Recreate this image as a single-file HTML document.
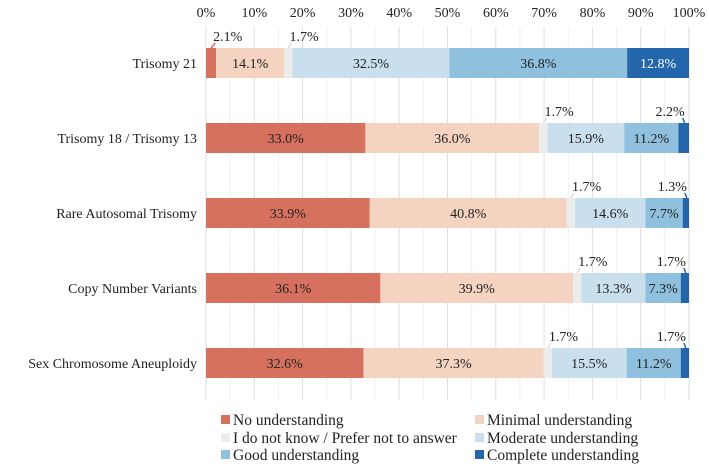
<!DOCTYPE html>
<html><head><meta charset="utf-8"><style>
body{margin:0;background:#fff;}
svg{display:block;font-family:"Liberation Serif",serif;}
</style></head><body>
<svg id="c" width="709" height="465"></svg>
<script>
const categories=["Trisomy 21","Trisomy 18 / Trisomy 13","Rare Autosomal Trisomy","Copy Number Variants","Sex Chromosome Aneuploidy"];
const seriesNames=["No understanding","Minimal understanding","I do not know / Prefer not to answer","Moderate understanding","Good understanding","Complete understanding"];
const noUnderstanding=[2.1,33.0,33.9,36.1,32.6];
const minimalUnderstanding=[14.1,36.0,40.8,39.9,37.3];
const dontKnow=[1.7,1.7,1.7,1.7,1.7];
const moderateUnderstanding=[32.5,15.9,14.6,13.3,15.5];
const goodUnderstanding=[36.8,11.2,7.7,7.3,11.2];
const completeUnderstanding=[12.8,2.2,1.3,1.7,1.7];
const tickValues=[0,10,20,30,40,50,60,70,80,90,100];
const series=[noUnderstanding,minimalUnderstanding,dontKnow,moderateUnderstanding,goodUnderstanding,completeUnderstanding];
const colors=["#d6705f","#f4d3c0","#ececec","#cadfed","#8fc0dd","#2366ab"];
const svg=document.getElementById('c');const NS="http://www.w3.org/2000/svg";
const x0=206,x1=689;const X=v=>x0+(x1-x0)*v/100;
const rowTop=i=>48+i*75;const bh=30;
function el(t,a,p){const e=document.createElementNS(NS,t);for(const k in a)e.setAttribute(k,a[k]);(p||svg).appendChild(e);return e;}
for(let v=0;v<=100;v+=5){const g=el('line',{x1:X(v),x2:X(v),y1:27,y2:400,stroke:v%10===0?'#dedede':'#efefef','stroke-width':1});

}
tickValues.forEach(v=>{const t=el('text',{x:X(v),y:17,'text-anchor':'middle','font-size':14,fill:'#222'});t.textContent=v+'%';

});
categories.forEach((c,i)=>{
 const t=el('text',{x:197,y:rowTop(i)+bh/2+5,'text-anchor':'end','font-size':14,fill:'#222'});t.textContent=c;
 
 
 let acc=0;
 series.forEach((s,j)=>{const v=s[i];const xa=X(acc),xb=X(acc+v);acc+=v;
  const r=el('rect',{x:xa,y:rowTop(i),width:xb-xa,height:bh,fill:colors[j]});
  
  
  const lab=v.toFixed(1)+'%';
  if(xb-xa>30){const tt=el('text',{x:(xa+xb)/2,y:rowTop(i)+bh/2+5,'text-anchor':'middle','font-size':14,fill:j===5?'#fff':'#222'});tt.textContent=lab;
   
   }
  else{let tt;const by=rowTop(i)-7;
   if(j===5){tt=el('text',{x:(xa+xb)/2+1,y:by,'text-anchor':'end','font-size':14,fill:'#222'});
    el('line',{x1:(xa+xb)/2-1,y1:by+2,x2:(xa+xb)/2+1,y2:rowTop(i),stroke:'#2366ab','stroke-width':1.5});}
   else{tt=el('text',{x:xb-3,y:by,'font-size':14,fill:'#222'});
    el('line',{x1:xb-1,y1:by+2,x2:(xa+xb)/2,y2:rowTop(i),stroke:j===0?colors[0]:'#ddd','stroke-width':1.5});}
   tt.textContent=lab;
   
   }
 });
});
const lx=[221,475],ly=[425,443,460];
seriesNames.forEach((n,k)=>{const cx=lx[k%2],cy=ly[Math.floor(k/2)];
 const g=el('g',{});
 
 
 el('rect',{x:cx,y:cy-10,width:9,height:9,fill:colors[k]},g);
 const t=el('text',{x:cx+12,y:cy,'font-size':15.5,fill:'#222'},g);t.textContent=n;});
</script>
</body></html>
